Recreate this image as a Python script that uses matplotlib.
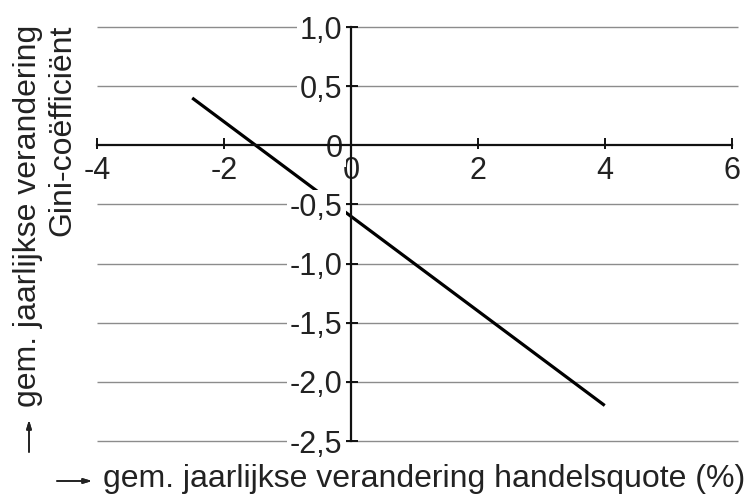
import matplotlib.pyplot as plt

# gegevens
handelsquote = [-2.5, 4.0]
gini = [0.4, -2.2]

x_ticks = [-4, -2, 0, 2, 4, 6]
x_labels = ['-4', '-2', '0', '2', '4', '6']
y_ticks = [1.0, 0.5, 0.0, -0.5, -1.0, -1.5, -2.0, -2.5]
y_labels = ['1,0', '0,5', '0', '-0,5', '-1,0', '-1,5', '-2,0', '-2,5']

plt.rcParams['font.family'] = ['Liberation Sans', 'DejaVu Sans']
plt.rcParams['axes.unicode_minus'] = False

W, H = 749, 498
fig = plt.figure(figsize=(W / 100, H / 100), dpi=100)
# plot area in pixels: x -4..6.1 -> 97..738, y -2.5..1.0 -> 441..27
ax = fig.add_axes([97 / W, (H - 441) / H, (738 - 97) / W, (441 - 27) / H])
ax.set_xlim(-4, 6.1)
ax.set_ylim(-2.5, 1.0)
ax.patch.set_visible(False)

txt = '#222222'
fs_tick = 22
fs_lab = 23

# horizontal gridlines
grid_y = [v for v in y_ticks if v != 0]
ax.hlines(grid_y, -4, 6.1, colors='#8c8c8c', linewidth=1.0, zorder=1, clip_on=False)

ax.plot(handelsquote, gini, color='black', linewidth=2.3, solid_capstyle='butt', zorder=1.5)

for s in ['top', 'right']:
    ax.spines[s].set_visible(False)
ax.spines['left'].set_position(('data', 0))
ax.spines['bottom'].set_position(('data', 0))
ax.spines['left'].set_bounds(-2.5, 1.0)
ax.spines['bottom'].set_bounds(-4, 6)
for s in ['left', 'bottom']:
    ax.spines[s].set_linewidth(1.6)
    ax.spines[s].set_color('#111111')

ax.set_xticks(x_ticks)
ax.set_xticklabels(x_labels)
ax.set_yticks(y_ticks)
ax.set_yticklabels(y_labels)
ax.tick_params(direction='inout', length=10, width=1.4, color='#111111',
               labelsize=fs_tick, labelcolor=txt)
ax.tick_params(axis='x', pad=3)
ax.tick_params(axis='y', pad=1)

for lbl in ax.get_xticklabels():
    lbl.set_bbox(dict(boxstyle='square,pad=0.25', fc='white', ec='none'))
for lbl in ax.get_yticklabels():
    lbl.set_bbox(dict(boxstyle='square,pad=0.1', fc='white', ec='none'))

# axis titles
fig.text(103 / W, 11 / H, 'gem. jaarlijkse verandering handelsquote (%)',
         fontsize=fs_lab, color=txt, ha='left', va='baseline')
fig.text(45 / W, 1 - 25 / H, 'gem. jaarlijkse verandering\nGini-coëfficiënt',
         fontsize=fs_lab, color=txt, rotation=90, ha='center', va='top',
         multialignment='right', linespacing=1.2)

# thin arrows in front of the titles
arrow = dict(arrowstyle='-|>,head_length=0.5,head_width=0.15', color=txt,
             lw=1.2, shrinkA=0, shrinkB=0)
fig.add_artist(plt.annotate('', xy=(92, 17), xytext=(57, 17),
                            xycoords='figure pixels', arrowprops=arrow))
fig.add_artist(plt.annotate('', xy=(29, 78), xytext=(29, 46),
                            xycoords='figure pixels', arrowprops=arrow))

fig.savefig('out.png', dpi=100)
